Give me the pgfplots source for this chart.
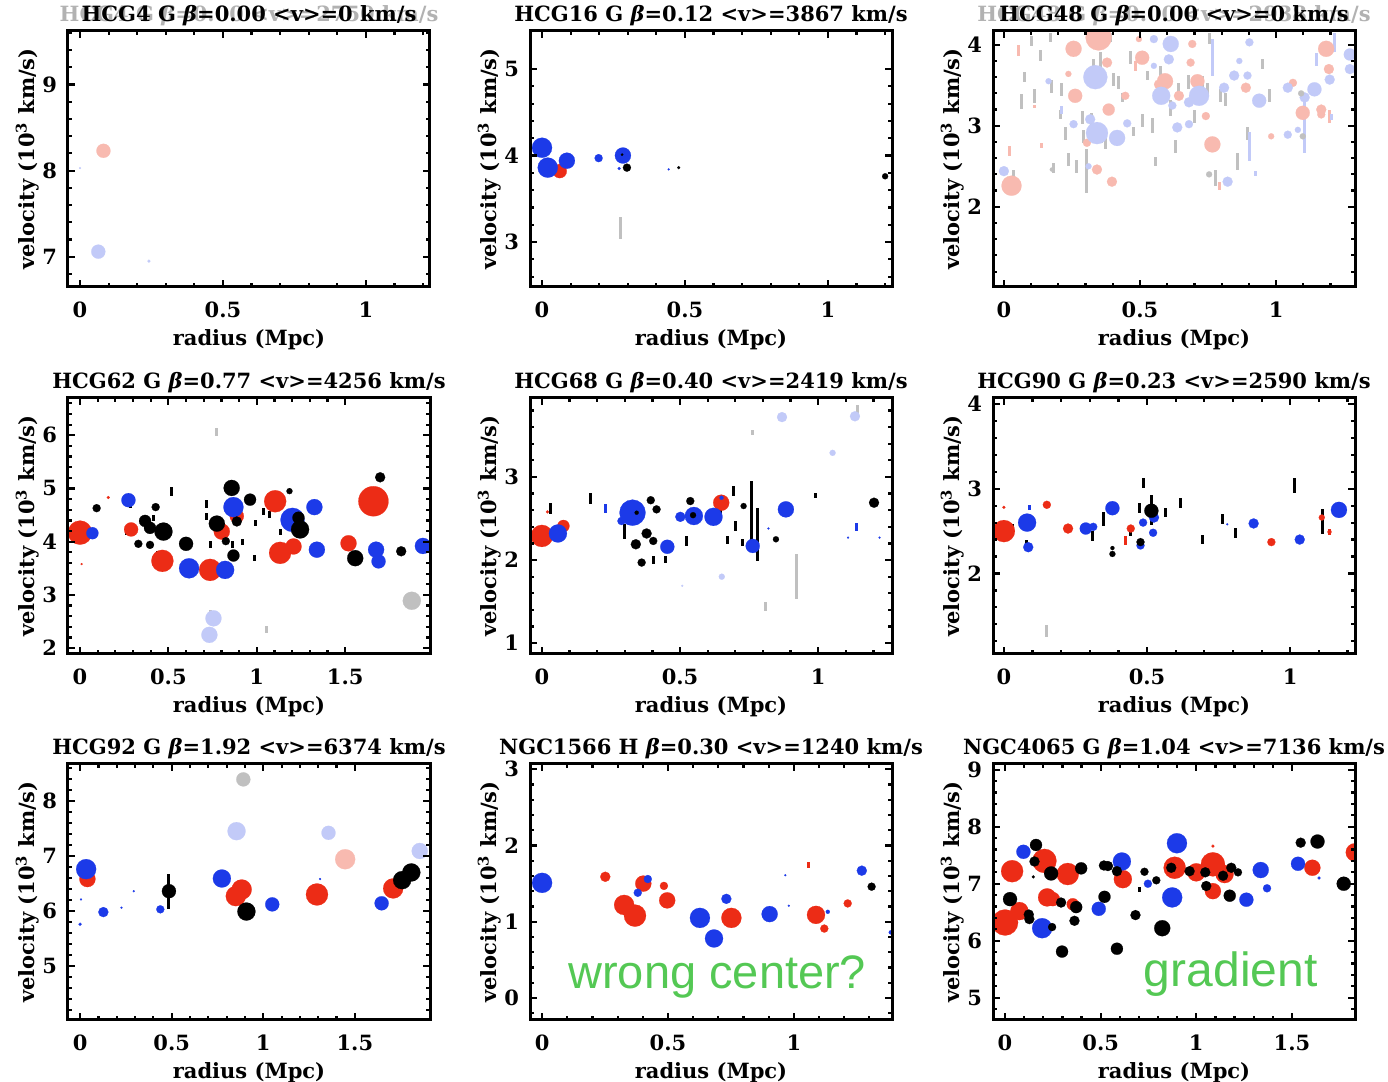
\documentclass[border=0pt]{standalone}
\usepackage{fontspec}
\setmainfont{DejaVu Serif}
\newfontfamily\arialfont{Liberation Sans}
\usepackage{pgfplots}
\pgfplotsset{compat=1.18}
\definecolor{pr}{RGB}{236,44,22}
\definecolor{pb}{RGB}{28,58,232}
\definecolor{plr}{RGB}{248,186,176}
\definecolor{plb}{RGB}{194,202,248}
\definecolor{pg}{RGB}{192,192,192}
\definecolor{pgreen}{RGB}{84,200,84}
\newcommand\lbl{\fontsize{10.5}{12}\selectfont\bfseries}
\pgfplotsset{
 panel/.style={
  scale only axis, width=181pt, height=128pt, anchor=south west,
  axis line style={line width=1.5pt},
  every tick/.style={black, line width=1.1pt},
  major tick length=3.5pt, minor tick length=1.8pt,
  tick align=inside,
  minor x tick num=4, minor y tick num=4,
  xtick={0,0.5,1,1.5}, ytick distance=1,
  /pgf/number format/assume math mode=true,
  ticklabel style={font=\lbl},
  xticklabel style={yshift=-4pt},
  yticklabel style={xshift=-2pt},
  label style={font=\lbl},
  every axis title shift=0pt,
  title style={font=\lbl, anchor=base, at={(axis description cs:0.5,1)}, yshift=4.5pt},
  xlabel={radius (Mpc)}, ylabel={velocity (10\textsuperscript{3} km/s)},
  xlabel style={at={(axis description cs:0.5,0)}, anchor=base, yshift=-29.5pt},
  ylabel style={at={(axis description cs:-0.112,0.5)}, anchor=center},
  clip marker paths=true, axis on top,
 },
 dots/.style={scatter, only marks, mark=*, scatter/use mapped color={draw=#1, fill=#1},
  mark options={line width=0.1pt},
  visualization depends on={\thisrow{r}\as\rr},
  scatter/@pre marker code/.append style={/tikz/mark size=\rr/2}},
 bars/.style={draw=none, mark=none, forget plot, error bars/.cd, y dir=both, y explicit, error mark=none,
  error bar style={draw=#1, solid, line width=1.5pt}},
}
\begin{document}
\begin{tikzpicture}
\useasboundingbox (0,0) rectangle (694pt,541pt);
% ---------------- HCG4
\begin{axis}[panel, at={(34pt,397.5pt)}, xmin=-0.042, xmax=1.224, ymin=6.65, ymax=9.62,
 title={\makebox[0pt]{\color{black!30}HCG4 G \textit{β}=0.00 <v>=2750 km/s}\makebox[0pt]{HCG4 G \textit{β}=0.00 <v>=0 km/s}}]
\addplot[dots=plr] table[row sep=\\]{x y r\\ 0.082 8.23 7\\};
\addplot[dots=plb] table[row sep=\\]{x y r\\ 0.064 7.06 7\\ 0.241 6.95 1.5\\ 0.0 8.03 1\\};
\end{axis}
% ---------------- HCG16
\begin{axis}[panel, at={(265pt,397.5pt)}, xmin=-0.042, xmax=1.224, ymin=2.48, ymax=5.44,
 title={HCG16 G \textit{β}=0.12 <v>=3867 km/s}]
\addplot[bars=pg] table[x=x,y=y,y error=e,row sep=\\]{x y e\\ 0.274 3.16 0.125\\};
\addplot[dots=pr] table[row sep=\\]{x y r\\ 0.062 3.82 7\\};
\addplot[dots=pb] table[row sep=\\]{x y r\\ 0.0 4.09 10\\ 0.02 3.86 10\\ 0.087 3.94 8\\ 0.198 3.97 4\\ 0.283 4.00 8\\ 0.27 3.85 1.5\\ 0.443 3.84 1\\};
\addplot[dots=black] table[row sep=\\]{x y r\\ 0.297 3.86 4\\ 0.28 4.01 1.2\\ 0.478 3.86 1.5\\ 1.20 3.76 3\\};
\end{axis}
% ---------------- HCG48
\begin{axis}[panel, at={(496.5pt,397.5pt)}, xmin=-0.04, xmax=1.29, ymin=1.01, ymax=4.17,
 title={\makebox[0pt]{\color{black!30}HCG48 G \textit{β}=0.00 <v>=2938 km/s}\makebox[0pt]{HCG48 G \textit{β}=0.00 <v>=0 km/s}}]
\addplot[bars=pg] table[x=x,y=y,y error=e,row sep=\\]{x y e\\
0.034 2.39 0.07\\ 0.065 3.30 0.09\\ 0.077 3.60 0.06\\ 0.114 3.37 0.09\\ 0.102 4.05 0.06\\
0.133 3.87 0.07\\ 0.17 4.09 0.06\\ 0.176 3.49 0.08\\ 0.182 2.48 0.06\\ 0.207 3.14 0.06\\
0.213 3.45 0.08\\ 0.225 2.91 0.08\\ 0.237 2.58 0.08\\ 0.268 2.50 0.08\\ 0.287 3.10 0.08\\
0.293 2.87 0.08\\ 0.305 2.44 0.27\\ 0.323 3.08 0.08\\ 0.33 3.74 0.08\\ 0.354 3.70 0.21\\
0.36 2.86 0.07\\ 0.373 2.79 0.08\\ 0.391 4.09 0.05\\ 0.403 3.57 0.08\\ 0.422 3.53 0.08\\
0.434 3.35 0.06\\ 0.465 3.84 0.08\\ 0.477 2.93 0.06\\ 0.508 3.06 0.08\\ 0.526 3.62 0.06\\
0.545 3.00 0.09\\ 0.557 2.56 0.06\\ 0.576 3.66 0.08\\ 0.594 3.55 0.06\\ 0.613 3.22 0.10\\
0.631 2.75 0.08\\ 0.643 3.45 0.08\\ 0.68 3.54 0.09\\ 0.699 3.12 0.08\\ 0.729 3.49 0.12\\
0.748 3.45 0.08\\ 0.754 4.08 0.07\\ 0.779 2.36 0.10\\ 0.797 3.37 0.08\\ 0.816 3.33 0.08\\
0.859 2.56 0.10\\ 0.895 2.91 0.08\\ 0.951 3.76 0.06\\ 0.975 3.37 0.08\\};
\addplot[bars=plr] table[x=x,y=y,y error=e,row sep=\\]{x y e\\
0.053 3.93 0.07\\ 0.022 2.69 0.06\\ 0.114 3.24 0.02\\ 0.139 2.76 0.03\\ 0.791 2.26 0.05\\ 1.197 3.12 0.08\\ 0.483 3.74 0.06\\};
\addplot[bars=plb] table[x=x,y=y,y error=e,row sep=\\]{x y e\\
0.766 3.84 0.23\\ 0.902 2.74 0.18\\ 1.105 3.0 0.33\\ 0.926 2.41 0.03\\ 0.213 3.19 0.05\\ 1.203 3.11 0.04\\ 1.148 3.82 0.08\\ 1.215 4.03 0.12\\};
\addplot[dots=plr] table[row sep=\\]{x y r\\
0.028 2.26 10\\ 0.348 4.09 13\\ 0.256 3.95 8\\ 0.508 3.84 7\\ 0.379 3.78 5\\ 0.262 3.37 7\\
0.385 3.20 6\\ 0.446 3.37 4\\ 0.592 3.55 8\\ 0.686 3.78 4\\ 0.692 4.01 4\\ 0.643 3.37 5\\
0.711 3.55 7\\ 0.766 2.77 8\\ 0.742 3.12 4\\ 0.889 3.47 5\\ 1.098 3.16 7\\ 1.184 3.95 8\\
1.194 3.70 5\\ 1.166 3.20 5\\ 0.982 2.87 3\\ 0.342 2.46 5\\ 0.397 2.31 5\\ 0.305 2.79 4\\
0.237 3.64 3\\ 0.496 4.07 3\\ 1.062 3.53 4\\ 1.166 3.14 4\\ 0.57 3.51 5\\};
\addplot[dots=plb] table[row sep=\\]{x y r\\
0.0 2.44 5\\ 0.336 3.60 12\\ 0.342 2.91 11\\ 0.416 2.85 8\\ 0.317 3.08 5\\ 0.256 3.02 4\\
0.578 3.37 9\\ 0.613 4.01 8\\ 0.606 3.82 5\\ 0.619 3.25 4\\ 0.717 3.37 10\\ 0.68 3.29 5\\
0.637 2.98 5\\ 0.68 3.02 4\\ 0.551 4.07 4\\ 0.846 3.62 5\\ 0.902 4.03 4\\ 0.895 3.62 4\\
0.938 3.31 7\\ 0.865 3.80 3\\ 0.809 3.47 5\\ 0.822 2.31 5\\ 1.043 3.47 5\\ 1.043 2.89 4\\
1.105 3.35 5\\ 1.141 3.45 7\\ 1.197 3.57 5\\ 1.271 3.88 6\\ 1.271 3.70 5\\ 1.08 2.95 3\\
0.453 3.03 4\\ 0.164 3.55 3\\ 0.311 2.50 3\\ 0.551 3.74 3\\};
\addplot[dots=pg] table[row sep=\\]{x y r\\ 0.754 2.40 3\\ 1.098 2.87 3\\ 1.092 3.40 3\\ 0.176 2.46 2\\};
\end{axis}
% ---------------- HCG62
\begin{axis}[panel, at={(34pt,214pt)}, xmin=-0.068, xmax=1.98, ymin=1.89, ymax=6.7,
 title={HCG62 G \textit{β}=0.77 <v>=4256 km/s}]
\addplot[bars=pg] table[x=x,y=y,y error=e,row sep=\\]{x y e\\ 0.77 6.06 0.08\\ 1.057 2.35 0.06\\ 0.74 2.66 0.06\\};
\addplot[bars=black] table[x=x,y=y,y error=e,row sep=\\]{x y e\\
0.283 4.76 0.12\\ 0.264 4.19 0.06\\ 0.519 4.94 0.08\\ 0.415 4.44 0.06\\ 0.44 3.74 0.08\\
0.713 4.71 0.08\\ 0.717 4.47 0.06\\ 0.74 3.95 0.06\\ 0.864 3.95 0.06\\ 0.921 3.99 0.06\\
0.991 4.35 0.06\\ 0.985 3.69 0.06\\ 1.038 4.57 0.06\\ 1.072 4.51 0.06\\ 1.132 4.18 0.05\\};
\addplot[dots=plb] table[row sep=\\]{x y r\\ 0.755 2.56 8\\ 0.732 2.25 8\\};
\addplot[dots=pg] table[row sep=\\]{x y r\\ 1.877 2.89 9\\};
\addplot[dots=pr] table[row sep=\\]{x y r\\
0.0 4.17 12\\ 0.289 4.23 7\\ 0.466 3.64 11\\ 0.736 3.47 11\\ 1.104 4.76 11\\ 1.132 3.79 11\\
1.208 3.91 8\\ 0.887 4.48 7\\ 0.802 4.19 8\\ 1.66 4.76 15\\ 1.519 3.97 8\\ 0.16 4.83 1.5\\ 0.009 3.58 1\\};
\addplot[dots=pb] table[row sep=\\]{x y r\\
0.07 4.16 6\\ 0.274 4.78 7\\ 0.617 3.50 10\\ 0.821 3.47 9\\ 0.868 4.65 10\\ 1.202 4.41 12\\
1.326 4.65 8\\ 1.34 3.85 8\\ 1.675 3.85 8\\ 1.689 3.63 7\\ 1.94 3.92 8\\};
\addplot[dots=black] table[row sep=\\]{x y r\\
0.094 4.63 4\\ 0.368 4.39 6\\ 0.396 4.26 6\\ 0.428 4.65 4\\ 0.472 4.19 9\\ 0.33 3.96 4\\
0.396 3.94 4\\ 0.6 3.96 7\\ 0.858 5.01 8\\ 0.774 4.34 8\\ 0.825 4.01 4\\ 0.868 3.74 6\\
0.887 4.38 5\\ 0.962 4.79 6\\ 1.185 4.95 3\\ 1.236 4.45 6\\ 1.245 4.23 9\\ 1.557 3.69 8\\
1.698 5.21 5\\ 1.817 3.82 5\\ 1.981 4.04 8\\};
\end{axis}
% ---------------- HCG68
\begin{axis}[panel, at={(265pt,214pt)}, xmin=-0.043, xmax=1.267, ymin=0.87, ymax=3.95,
 title={HCG68 G \textit{β}=0.40 <v>=2419 km/s}]
\addplot[bars=pg] table[x=x,y=y,y error=e,row sep=\\]{x y e\\ 0.761 3.54 0.03\\ 0.922 1.80 0.27\\ 0.811 1.44 0.05\\ 1.142 3.81 0.06\\};
\addplot[dots=plb] table[row sep=\\]{x y r\\ 0.869 3.72 5\\ 1.133 3.73 5\\ 1.052 3.29 3\\ 0.651 1.80 3\\ 0.508 1.69 1\\};
\addplot[bars=black] table[x=x,y=y,y error=e,row sep=\\]{x y e\\
0.03 2.62 0.07\\ 0.177 2.74 0.07\\ 0.30 2.34 0.09\\ 0.405 2.0 0.05\\ 0.448 2.01 0.04\\
0.523 2.23 0.06\\ 0.646 2.6 0.05\\ 0.671 2.24 0.05\\ 0.694 2.83 0.06\\ 0.701 2.41 0.06\\
0.725 2.21 0.04\\ 0.76 2.57 0.38\\ 0.781 2.31 0.32\\ 0.989 2.78 0.03\\};
\addplot[bars=pb] table[x=x,y=y,y error=e,row sep=\\]{x y e\\ 0.231 2.62 0.05\\ 1.138 2.40 0.05\\};
\addplot[dots=pr] table[row sep=\\]{x y r\\ 0.0 2.29 11\\ 0.078 2.41 6\\ 0.649 2.69 8\\ 0.02 2.58 1.5\\};
\addplot[dots=pb] table[row sep=\\]{x y r\\
0.058 2.32 9\\ 0.328 2.57 13\\ 0.288 2.47 4\\ 0.501 2.52 5\\ 0.55 2.53 9\\ 0.621 2.52 9\\
0.454 2.16 7\\ 0.763 2.17 7\\ 0.883 2.61 8\\ 0.65 2.75 2\\ 1.108 2.27 1\\ 1.222 2.27 1\\ 0.82 2.38 1\\};
\addplot[dots=black] table[row sep=\\]{x y r\\
0.343 2.57 2\\ 0.394 2.72 4\\ 0.415 2.61 4\\ 0.379 2.32 5\\ 0.34 2.19 5\\ 0.403 2.23 4\\
0.537 2.71 4\\ 0.547 2.54 3\\ 0.361 1.97 4\\ 0.73 2.65 3\\ 0.847 2.25 3\\ 1.202 2.69 5\\};
\end{axis}
% ---------------- HCG90
\begin{axis}[panel, at={(496.5pt,214pt)}, xmin=-0.038, xmax=1.226, ymin=1.05, ymax=4.07,
 title={HCG90 G \textit{β}=0.23 <v>=2590 km/s}]
\addplot[bars=pg] table[x=x,y=y,y error=e,row sep=\\]{x y e\\ 0.15 1.32 0.07\\};
\addplot[bars=black] table[x=x,y=y,y error=e,row sep=\\]{x y e\\
0.029 2.52 0.06\\ 0.079 2.34 0.05\\ 0.309 2.44 0.06\\ 0.349 2.64 0.08\\ 0.443 2.50 0.06\\
0.474 2.77 0.06\\ 0.486 3.07 0.06\\ 0.515 2.75 0.18\\ 0.564 2.72 0.05\\ 0.617 2.83 0.06\\
0.692 2.40 0.05\\ 0.765 2.64 0.06\\ 0.809 2.48 0.06\\ 1.013 3.04 0.09\\ 1.112 2.61 0.15\\};
\addplot[bars=pr] table[x=x,y=y,y error=e,row sep=\\]{x y e\\ 0.426 2.39 0.05\\ 1.137 2.49 0.04\\};
\addplot[bars=pb] table[x=x,y=y,y error=e,row sep=\\]{x y e\\ 0.091 2.78 0.03\\};
\addplot[dots=pr] table[row sep=\\]{x y r\\
0.0 2.50 11\\ 0.0 2.78 1.5\\ 0.15 2.81 4\\ 0.224 2.53 5\\ 0.443 2.53 4\\ 0.934 2.37 4\\ 1.11 2.66 3\\ 1.137 2.49 2\\};
\addplot[dots=pb] table[row sep=\\]{x y r\\
0.081 2.60 9\\ 0.085 2.31 5\\ 0.286 2.53 6\\ 0.312 2.55 4\\ 0.379 2.77 7\\ 0.486 2.60 4\\
0.477 2.33 4\\ 0.521 2.48 4\\ 0.524 2.66 5\\ 0.872 2.59 5\\ 1.033 2.40 5\\ 1.17 2.75 8\\ 0.78 2.58 1\\};
\addplot[dots=black] table[row sep=\\]{x y r\\ 0.515 2.74 7\\ 0.477 2.37 4\\ 0.379 2.23 3\\ 0.379 2.30 2\\};
\end{axis}
% ---------------- HCG92
\begin{axis}[panel, at={(34pt,31pt)}, xmin=-0.066, xmax=1.91, ymin=4.02, ymax=8.67,
 title={HCG92 G \textit{β}=1.92 <v>=6374 km/s}]
\addplot[dots=pg] table[row sep=\\]{x y r\\ 0.891 8.39 7\\};
\addplot[dots=plb] table[row sep=\\]{x y r\\ 0.854 7.45 9\\ 1.356 7.42 7\\ 1.854 7.09 8\\};
\addplot[dots=plr] table[row sep=\\]{x y r\\ 1.447 6.94 10\\};
\addplot[bars=black] table[x=x,y=y,y error=e,row sep=\\]{x y e\\ 0.485 6.36 0.32\\};
\addplot[dots=pr] table[row sep=\\]{x y r\\ 0.04 6.58 8\\ 0.85 6.27 10\\ 0.882 6.39 10\\ 1.293 6.30 11\\ 1.709 6.41 10\\};
\addplot[dots=pb] table[row sep=\\]{x y r\\
0.033 6.76 10\\ 0.127 5.98 5\\ 0.438 6.03 4\\ 0.774 6.59 9\\ 1.049 6.12 7\\ 1.646 6.14 7\\
0.0 5.76 1.5\\ 0.293 6.36 1\\ 0.226 6.06 1\\ 0.005 6.21 1\\ 1.31 6.58 1\\};
\addplot[dots=black] table[row sep=\\]{x y r\\ 0.485 6.36 7\\ 0.908 5.99 9\\ 1.758 6.56 9\\ 1.808 6.70 9\\};
\end{axis}
% ---------------- NGC1566
\begin{axis}[panel, at={(265pt,31pt)}, xmin=-0.048, xmax=1.39, ymin=-0.29, ymax=3.07,
 title={NGC1566 H \textit{β}=0.30 <v>=1240 km/s}]
\addplot[bars=pr] table[x=x,y=y,y error=e,row sep=\\]{x y e\\ 1.059 1.74 0.04\\};
\addplot[dots=pr] table[row sep=\\]{x y r\\
0.251 1.59 5\\ 0.326 1.22 10\\ 0.369 1.08 11\\ 0.402 1.50 8\\ 0.484 1.47 4\\ 0.497 1.28 8\\
0.752 1.05 10\\ 1.088 1.09 9\\ 1.121 0.91 4\\ 1.214 1.24 4\\};
\addplot[dots=pb] table[row sep=\\]{x y r\\
0.0 1.51 10\\ 0.38 1.38 4\\ 0.42 1.56 4\\ 0.627 1.05 10\\ 0.683 0.78 9\\ 0.732 1.30 5\\
0.904 1.10 8\\ 1.27 1.67 5\\ 1.135 1.13 2\\ 1.385 0.86 2\\ 0.98 1.21 1\\ 0.966 1.61 1\\};
\addplot[dots=black] table[row sep=\\]{x y r\\ 1.309 1.46 4\\};
\node[font=\arialfont\fontsize{23.5}{26}\selectfont, text=pgreen, inner sep=0pt] at (axis cs:0.696,0.28) {wrong center?};
\end{axis}
% ---------------- NGC4065
\begin{axis}[panel, at={(496.5pt,31pt)}, xmin=-0.063, xmax=1.83, ymin=4.61, ymax=9.1,
 title={NGC4065 G \textit{β}=1.04 <v>=7136 km/s}]
\addplot[bars=black] table[x=x,y=y,y error=e,row sep=\\]{x y e\\ 0.703 6.90 0.04\\};
\addplot[dots=pr] table[row sep=\\]{x y r\\
0.037 7.22 11\\ 0.0 6.32 13\\ 0.075 6.52 9\\ 0.206 7.40 12\\ 0.22 6.76 9\\ 0.25 6.73 7\\
0.328 7.17 11\\ 0.354 6.64 6\\ 0.616 7.08 9\\ 0.887 7.28 11\\ 1.0 7.20 9\\ 1.087 7.34 12\\
1.087 6.87 8\\ 1.148 7.17 9\\ 1.607 7.28 8\\ 1.829 7.55 9\\ 1.087 7.66 1.5\\};
\addplot[dots=pb] table[row sep=\\]{x y r\\
0.096 7.56 7\\ 0.194 6.22 10\\ 0.49 6.56 7\\ 0.611 7.39 9\\ 0.747 7.0 4\\ 0.899 7.71 10\\
0.874 6.76 10\\ 1.262 6.72 7\\ 1.337 7.24 8\\ 1.37 6.92 4\\ 1.532 7.35 7\\ 1.642 7.10 1.5\\};
\addplot[dots=black] table[row sep=\\]{x y r\\
0.026 6.73 7\\ 0.162 7.68 6\\ 0.154 7.39 5\\ 0.124 6.46 5\\ 0.127 6.38 5\\ 0.241 7.18 7\\
0.246 6.24 4\\ 0.293 6.67 5\\ 0.298 5.81 6\\ 0.372 6.59 6\\ 0.363 6.35 5\\ 0.398 7.27 6\\
0.517 7.32 5\\ 0.538 7.31 5\\ 0.52 6.77 6\\ 0.585 7.22 5\\ 0.585 5.86 6\\ 0.682 6.45 5\\
0.729 7.21 4\\ 0.791 7.06 4\\ 0.822 6.22 8\\ 0.869 7.28 5\\ 0.965 7.22 5\\ 1.047 7.20 5\\
1.052 6.96 5\\ 1.175 6.79 6\\ 1.183 7.28 5\\ 1.14 7.14 5\\ 1.218 7.20 4\\ 1.546 7.72 5\\
1.634 7.74 7\\ 1.771 7.0 7\\ 0.148 7.12 1.5\\};
\node[font=\arialfont\fontsize{24}{27}\selectfont, text=pgreen, inner sep=0pt] at (axis cs:1.18,5.41) {gradient};
\end{axis}
\end{tikzpicture}
\end{document}
